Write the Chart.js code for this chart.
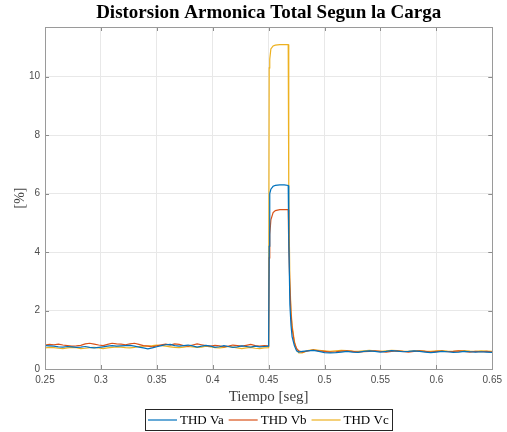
<!DOCTYPE html>
<html>
<head>
<meta charset="utf-8">
<script src="https://cdn.jsdelivr.net/npm/chart.js@4.4.1/dist/chart.umd.min.js"></script>
<style>
  html, body { margin: 0; padding: 0; background: #ffffff; }
  #wrap { width: 507px; height: 432px; }
</style>
</head>
<body>
<div id="wrap"><canvas id="graficaTHD" width="507" height="432"></canvas></div>
<script>
// tiempo [seg]
const tiempo = [
  0.250, 0.254, 0.258, 0.262, 0.266, 0.270, 0.274, 0.278, 0.282, 0.286,
  0.290, 0.294, 0.298, 0.302, 0.306, 0.310, 0.314, 0.318, 0.322, 0.326,
  0.330, 0.334, 0.338, 0.342, 0.346, 0.350, 0.354, 0.358, 0.362, 0.366,
  0.370, 0.374, 0.378, 0.382, 0.386, 0.390, 0.394, 0.398, 0.402, 0.406,
  0.410, 0.414, 0.418, 0.422, 0.426, 0.430, 0.434, 0.438, 0.442, 0.446,
  0.450,
  0.4505, 0.451, 0.452, 0.454, 0.456, 0.460, 0.464, 0.4675, 0.468, 0.469,
  0.470, 0.471, 0.473, 0.475, 0.477,
  0.480, 0.485, 0.490, 0.495, 0.500, 0.505, 0.510, 0.515, 0.520, 0.525,
  0.530, 0.535, 0.540, 0.545, 0.550, 0.555, 0.560, 0.565, 0.570, 0.575,
  0.580, 0.585, 0.590, 0.595, 0.600, 0.605, 0.610, 0.615, 0.620, 0.625,
  0.630, 0.635, 0.640, 0.645, 0.650
];

const thdVa = [
  0.80, 0.79, 0.78, 0.76, 0.75, 0.77, 0.76, 0.74, 0.75, 0.77,
  0.74, 0.72, 0.74, 0.76, 0.78, 0.80, 0.78, 0.79, 0.80, 0.81,
  0.78, 0.75, 0.72, 0.69, 0.72, 0.76, 0.80, 0.83, 0.84, 0.80,
  0.78, 0.80, 0.82, 0.79, 0.75, 0.78, 0.81, 0.78, 0.74, 0.76,
  0.80, 0.77, 0.74, 0.76, 0.79, 0.77, 0.75, 0.78, 0.76, 0.77,
  0.78,
  4.2, 6.0, 6.15, 6.25, 6.28, 6.30, 6.30, 6.28, 4.5, 2.2,
  1.5, 1.1, 0.80, 0.62, 0.58,
  0.60, 0.62, 0.64, 0.60, 0.56, 0.55, 0.56, 0.58, 0.60, 0.58,
  0.57, 0.60, 0.62, 0.60, 0.58, 0.60, 0.63, 0.61, 0.59, 0.60,
  0.62, 0.60, 0.58, 0.56, 0.58, 0.60, 0.59, 0.57, 0.58, 0.60,
  0.59, 0.58, 0.59, 0.58, 0.57
];

const thdVb = [
  0.82, 0.84, 0.83, 0.85, 0.82, 0.80, 0.78, 0.79, 0.81, 0.86,
  0.88, 0.85, 0.82, 0.80, 0.84, 0.88, 0.86, 0.85, 0.83, 0.86,
  0.88, 0.84, 0.80, 0.78, 0.76, 0.79, 0.83, 0.85, 0.82, 0.86,
  0.84, 0.80, 0.78, 0.82, 0.86, 0.83, 0.80, 0.78, 0.81, 0.79,
  0.76, 0.78, 0.82, 0.80, 0.78, 0.81, 0.84, 0.80, 0.78, 0.80,
  0.79,
  3.8, 4.6, 5.1, 5.35, 5.42, 5.45, 5.45, 5.45, 4.2, 2.8,
  1.9, 1.4, 0.90, 0.70, 0.62,
  0.58, 0.62, 0.65, 0.62, 0.60, 0.58, 0.59, 0.61, 0.62, 0.60,
  0.58, 0.59, 0.60, 0.62, 0.60, 0.58, 0.60, 0.62, 0.60, 0.58,
  0.60, 0.62, 0.60, 0.58, 0.60, 0.61, 0.59, 0.60, 0.62, 0.60,
  0.58, 0.60, 0.59, 0.60, 0.58
];

const thdVc = [
  0.72, 0.74, 0.73, 0.71, 0.70, 0.72, 0.74, 0.73, 0.70, 0.71,
  0.73, 0.74, 0.72, 0.70, 0.72, 0.74, 0.76, 0.75, 0.73, 0.72,
  0.74, 0.77, 0.78, 0.79, 0.80, 0.82, 0.80, 0.78, 0.76, 0.74,
  0.73, 0.75, 0.77, 0.76, 0.74, 0.75, 0.78, 0.76, 0.73, 0.72,
  0.74, 0.77, 0.75, 0.72, 0.70, 0.72, 0.74, 0.71, 0.70, 0.72,
  0.73,
  10.3, 10.6, 10.95, 11.05, 11.08, 11.10, 11.10, 11.10, 6.0, 3.0,
  2.0, 1.5, 0.95, 0.65, 0.55,
  0.55, 0.63, 0.66, 0.64, 0.62, 0.60, 0.62, 0.64, 0.63, 0.61,
  0.60, 0.62, 0.64, 0.62, 0.60, 0.62, 0.64, 0.63, 0.61, 0.60,
  0.62, 0.63, 0.61, 0.60, 0.62, 0.63, 0.61, 0.60, 0.62, 0.63,
  0.61, 0.60, 0.62, 0.61, 0.60
];

// ticks
const ticksX = [0.25, 0.30, 0.35, 0.40, 0.45, 0.50, 0.55, 0.60, 0.65];
const etiquetasX = ['0.25', '0.3', '0.35', '0.4', '0.45', '0.5', '0.55', '0.6', '0.65'];
const ticksY = [0, 2, 4, 6, 8, 10];
const etiquetasY = ['0', '2', '4', '6', '8', '10'];

const titulo = 'Distorsion Armonica Total Segun la Carga';

const series = [
  { label: 'THD Va', valores: thdVa, color: '#0072BD' },
  { label: 'THD Vb', valores: thdVb, color: '#D95319' },
  { label: 'THD Vc', valores: thdVc, color: '#EDB120' }
];

const datasets = series.map(function (s) {
  return {
    label: s.label,
    data: tiempo.map(function (t, i) { return { x: t, y: s.valores[i] }; }),
    borderColor: s.color,
    backgroundColor: s.color,
    borderWidth: 1.2,
    pointRadius: 0,
    tension: 0,
    fill: false
  };
});

// caja estilo MATLAB: titulo centrado en el eje, marco, ticks hacia dentro y leyenda con recuadro
const marcoPlugin = {
  id: 'marco',
  afterDatasetsDraw: function (chart) {
    const ctx = chart.ctx;
    const a = chart.chartArea;
    const sx = chart.scales.x;
    const sy = chart.scales.y;
    ctx.save();
    ctx.strokeStyle = '#8c8c8c';
    ctx.lineWidth = 1;
    ctx.beginPath();
    ticksX.forEach(function (t) {
      const px = Math.round(sx.getPixelForValue(t)) + 0.5;
      ctx.moveTo(px, a.top); ctx.lineTo(px, a.top + 4);
      ctx.moveTo(px, a.bottom); ctx.lineTo(px, a.bottom - 4);
    });
    ticksY.forEach(function (t) {
      const py = Math.round(sy.getPixelForValue(t)) + 0.5;
      ctx.moveTo(a.left, py); ctx.lineTo(a.left + 4, py);
      ctx.moveTo(a.right, py); ctx.lineTo(a.right - 4, py);
    });
    ctx.stroke();
    ctx.strokeStyle = '#9a9a9a';
    ctx.strokeRect(Math.round(a.left) + 0.5, Math.round(a.top) + 0.5,
      Math.round(a.right - a.left), Math.round(a.bottom - a.top));
    ctx.restore();
  },
  afterDraw: function (chart) {
    const ctx = chart.ctx;
    const a = chart.chartArea;
    const centro = (a.left + a.right) / 2;
    ctx.save();
    // titulo
    ctx.fillStyle = '#000000';
    ctx.font = 'bold 19px "Liberation Serif"';
    ctx.textAlign = 'center';
    ctx.textBaseline = 'middle';
    ctx.fillText(titulo, centro, 13);

    // leyenda
    ctx.font = '13px "Liberation Serif"';
    const largoLinea = 29, sep = 3, hueco = 5, margen = 3;
    const anchos = series.map(function (s) { return ctx.measureText(s.label).width; });
    let total = margen * 2;
    anchos.forEach(function (w, i) { total += largoLinea + sep + w + (i < anchos.length - 1 ? hueco : 0); });
    const x0 = Math.round(centro - total / 2);
    const yTop = 409, alto = 21, yc = yTop + alto / 2;
    ctx.fillStyle = '#ffffff';
    ctx.fillRect(x0, yTop, total, alto);
    ctx.strokeStyle = '#262626';
    ctx.lineWidth = 1;
    ctx.strokeRect(x0 + 0.5, yTop + 0.5, Math.round(total), alto);
    let x = x0 + margen;
    ctx.textAlign = 'left';
    series.forEach(function (s, i) {
      ctx.strokeStyle = s.color;
      ctx.lineWidth = 1.2;
      ctx.beginPath();
      ctx.moveTo(x, yc + 0.5);
      ctx.lineTo(x + largoLinea, yc + 0.5);
      ctx.stroke();
      x += largoLinea + sep;
      ctx.fillStyle = '#000000';
      ctx.fillText(s.label, x, yc + 1);
      x += anchos[i] + hueco;
    });
    ctx.restore();
  }
};

const config = {
  type: 'line',
  data: { datasets: datasets },
  plugins: [marcoPlugin],
  options: {
    responsive: false,
    animation: false,
    layout: { padding: { left: 0, right: 14, top: 27, bottom: 25 } },
    scales: {
      x: {
        type: 'linear',
        min: 0.25,
        max: 0.65,
        afterBuildTicks: function (scale) {
          scale.ticks = ticksX.map(function (v) { return { value: v }; });
        },
        afterFit: function (scale) { scale.height = 38; },
        ticks: {
          autoSkip: false,
          maxRotation: 0,
          padding: 5,
          color: '#4d4d4d',
          font: { family: 'Liberation Sans', size: 10 },
          callback: function (v, i) { return etiquetasX[i]; }
        },
        grid: { color: '#e8e8e8', lineWidth: 1, drawTicks: false },
        border: { display: false },
        title: {
          display: true,
          text: 'Tiempo [seg]',
          color: '#404040',
          font: { family: 'Liberation Serif', size: 15 },
          padding: { top: 2, bottom: 1 }
        }
      },
      y: {
        type: 'linear',
        min: 0,
        max: 11.7,
        afterBuildTicks: function (scale) {
          scale.ticks = ticksY.map(function (v) { return { value: v }; });
        },
        afterFit: function (scale) { scale.width = 45; },
        ticks: {
          padding: 5,
          color: '#4d4d4d',
          font: { family: 'Liberation Sans', size: 10 },
          callback: function (v, i) { return etiquetasY[i]; }
        },
        grid: { color: '#e8e8e8', lineWidth: 1, drawTicks: false },
        border: { display: false },
        title: {
          display: true,
          text: '[%]',
          color: '#404040',
          font: { family: 'Liberation Serif', size: 14 },
          padding: { top: 12, bottom: 0 }
        }
      }
    },
    plugins: {
      title: { display: false },
      legend: { display: false },
      tooltip: { enabled: false }
    }
  }
};

const myChart = new Chart(document.getElementById('graficaTHD'), config);
</script>
</body>
</html>
